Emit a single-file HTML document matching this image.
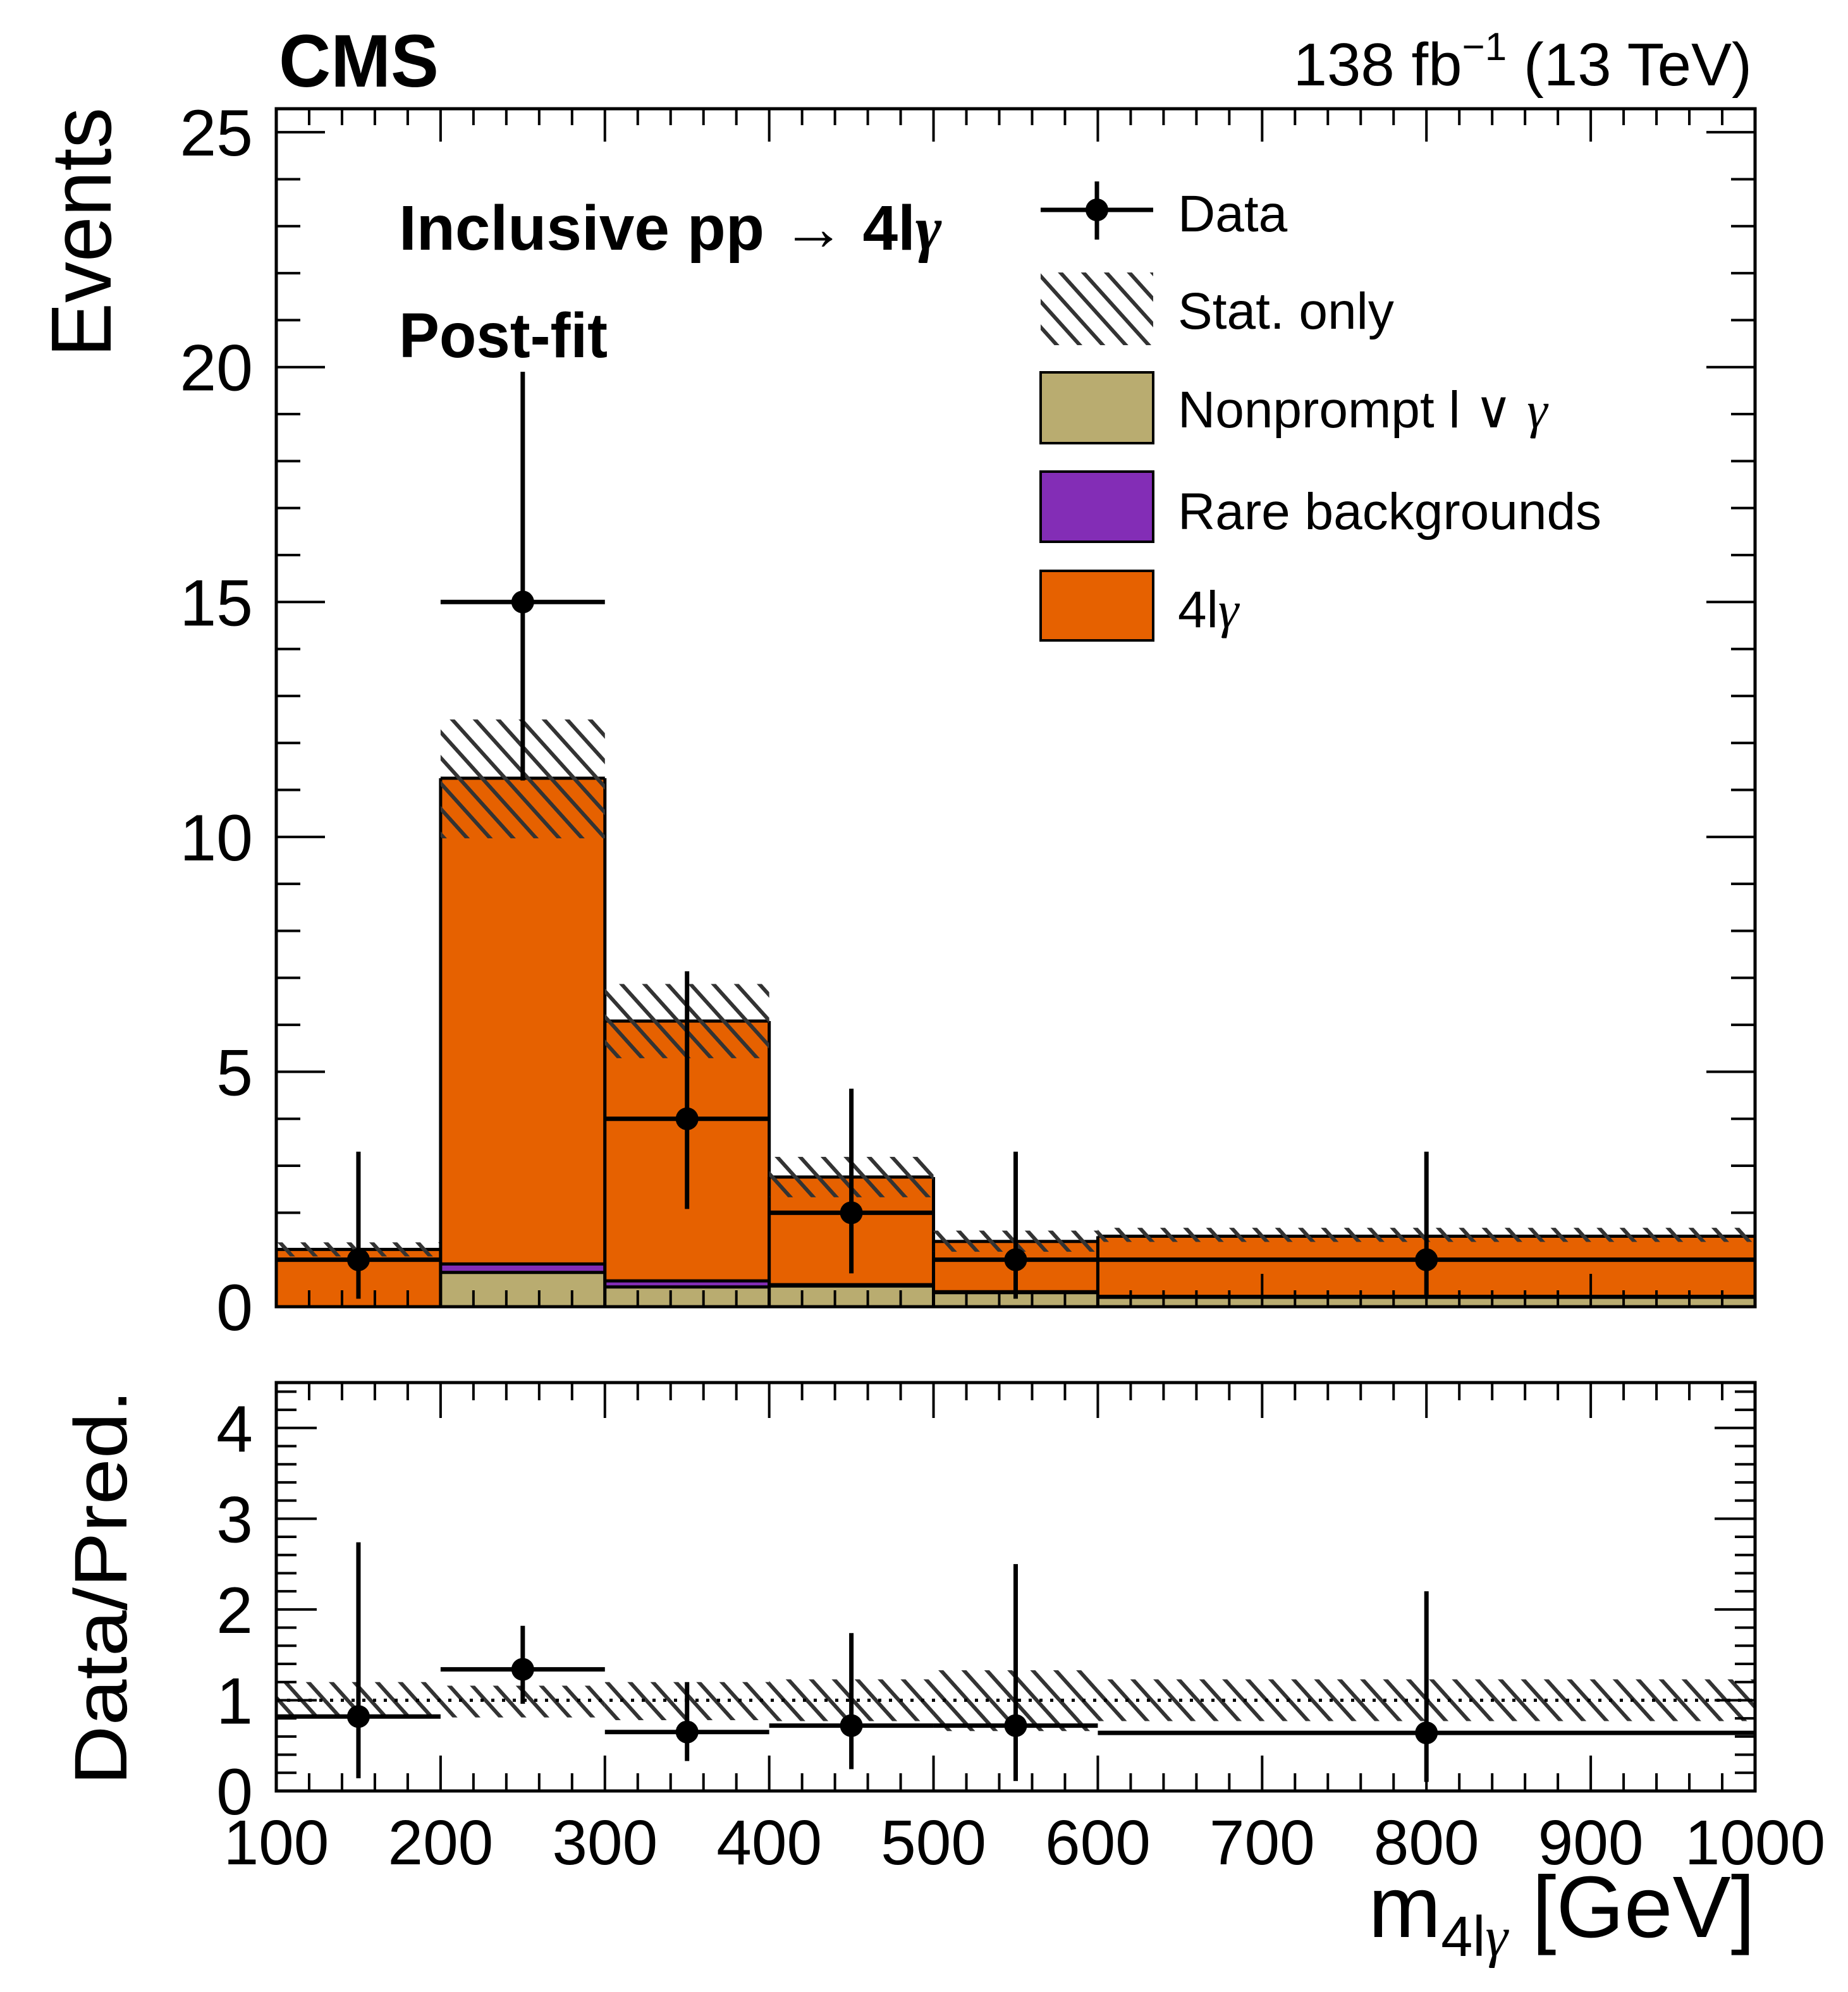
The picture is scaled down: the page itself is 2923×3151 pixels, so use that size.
<!DOCTYPE html>
<html><head><meta charset="utf-8"><style>
html,body{margin:0;padding:0;background:#fff}
svg{display:block}
text{font-family:"Liberation Sans",sans-serif;fill:#000}
.g{font-family:"Liberation Serif",serif;font-style:italic}
</style></head><body>
<svg id="chart" width="2923" height="3151" viewBox="0 0 2923 3151" xmlns="http://www.w3.org/2000/svg">
<defs>
<pattern id="hatch" patternUnits="userSpaceOnUse" width="27" height="27" patternTransform="rotate(-42)">
<line x1="13" y1="0" x2="13" y2="27" stroke="#333" stroke-width="6"/>
</pattern>
<clipPath id="clipTop"><rect x="437" y="172" width="2339" height="1895"/></clipPath>
<clipPath id="clipBot"><rect x="437" y="2187" width="2339" height="646"/></clipPath>
</defs>
<g id="layer-top"></g>
<g id="layer-bot"></g>
<g id="layer-axes"></g>

<text x="441" y="137" font-size="118" font-weight="bold" textLength="253" lengthAdjust="spacingAndGlyphs">CMS</text>
<text x="2771" y="135" font-size="96" text-anchor="end">138 fb<tspan font-size="62" dy="-40">−1</tspan><tspan dy="40"> (13 TeV)</tspan></text>
<text x="631" y="395" font-size="100" font-weight="bold">Inclusive pp → 4l<tspan class="g">γ</tspan></text>
<text x="631" y="565" font-size="100" font-weight="bold" textLength="330" lengthAdjust="spacingAndGlyphs">Post-fit</text>
<text transform="translate(175,565) rotate(-90)" font-size="135" textLength="395" lengthAdjust="spacingAndGlyphs">Events</text>
<text transform="translate(200,2824) rotate(-90)" font-size="118" textLength="626" lengthAdjust="spacingAndGlyphs">Data/Pred.</text>
<text x="2776" y="3064" font-size="138" text-anchor="end">m<tspan font-size="90" dy="30">4l<tspan class="g">γ</tspan></tspan><tspan dy="-30"> [GeV]</tspan></text>

<g>
<g>
<line x1="1646" y1="332" x2="1824" y2="332" stroke="#000" stroke-width="7"/>
<line x1="1735" y1="287" x2="1735" y2="379" stroke="#000" stroke-width="7"/>
<circle cx="1735" cy="332" r="18" fill="#000"/>
<text x="1863" y="366" font-size="82">Data</text></g>
<g>
<rect x="1646" y="431" width="178" height="115" fill="url(#hatch)"/>
<text x="1863" y="520" font-size="82">Stat. only</text></g>
<g>
<rect x="1646" y="589" width="178" height="112" fill="#b9ac70" stroke="#000" stroke-width="4"/>
<text x="1863" y="676" font-size="82">Nonprompt l ∨ <tspan class="g">γ</tspan></text></g>
<g>
<rect x="1646" y="746" width="178" height="111" fill="#832db6" stroke="#000" stroke-width="4"/>
<text x="1863" y="837" font-size="82">Rare backgrounds</text></g>
<g>
<rect x="1646" y="903" width="178" height="110" fill="#e66100" stroke="#000" stroke-width="4"/>
<text x="1863" y="992" font-size="82">4l<tspan class="g">γ</tspan></text></g>
</g>
</svg>
<script>
const binEdges = [100, 200, 300, 400, 500, 600, 1000];
const nonprompt = [0, 0.73, 0.42, 0.44, 0.30, 0.20];
const rare = [0, 0.18, 0.13, 0.03, 0.02, 0.02];
const signal = [1.22, 10.34, 5.53, 2.29, 1.07, 1.28];
const statLo = [1.07, 9.97, 5.29, 2.33, 1.17, 1.38];
const statHi = [1.37, 12.5, 6.87, 3.19, 1.62, 1.68];
const dataVal = [1, 15, 4, 2, 1, 1];
const dataLo = [0.17, 11.2, 2.08, 0.71, 0.17, 0.17];
const dataHi = [3.3, 19.9, 7.14, 4.64, 3.3, 3.3];
const ratioVal = [0.82, 1.34, 0.65, 0.72, 0.72, 0.64];
const ratioLo = [0.14, 0.96, 0.33, 0.24, 0.11, 0.10];
const ratioHi = [2.74, 1.82, 1.2, 1.74, 2.5, 2.2];
const ratioBandLo = [0.81, 0.81, 0.78, 0.77, 0.66, 0.77];
const ratioBandHi = [1.2, 1.16, 1.2, 1.23, 1.33, 1.23];
const yTicksTop = [0, 5, 10, 15, 20, 25];
const yTicksBot = [0, 1, 2, 3, 4];
const xTicks = [100, 200, 300, 400, 500, 600, 700, 800, 900, 1000];

(function () {
const NS = "http://www.w3.org/2000/svg";
const X0 = 437, X1 = 2776, TY0 = 2067, TY1 = 172, BY0 = 2833, BY1 = 2187;
const xs = v => X0 + (v - 100) * (X1 - X0) / 900;
const yt = v => TY0 - v * (TY0 - TY1) / 25.5;
const yb = v => BY0 - v * (BY0 - BY1) / 4.5;
function mk(tag, attrs, parent) { const e = document.createElementNS(NS, tag); for (const k in attrs) e.setAttribute(k, attrs[k]); parent.appendChild(e); return e; }
const topLayer = document.getElementById('layer-top');
const botLayer = document.getElementById('layer-bot');
const ax = document.getElementById('layer-axes');
const gT = mk('g', {'clip-path': 'url(#clipTop)'}, topLayer);
const gB = mk('g', {'clip-path': 'url(#clipBot)'}, botLayer);

for (let i = 0; i < dataVal.length; i++) {
  const xa = xs(binEdges[i]), xb = xs(binEdges[i + 1]);
  const l1 = nonprompt[i], l2 = l1 + rare[i], l3 = l2 + signal[i];
  const r1 = mk('rect', {x: xa, y: yt(l1), width: xb - xa, height: yt(0) - yt(l1), fill: '#b9ac70'}, gT);
  
  
  const r2 = mk('rect', {x: xa, y: yt(l2), width: xb - xa, height: yt(l1) - yt(l2), fill: '#832db6'}, gT);
  
  
  const r3 = mk('rect', {x: xa, y: yt(l3), width: xb - xa, height: yt(l2) - yt(l3), fill: '#e66100'}, gT);
  
  
  [l1, l2, l3].forEach(v => { if (v > 0) mk('line', {x1: xa, x2: xb, y1: yt(v), y2: yt(v), stroke: '#000', 'stroke-width': 5}, gT); });
  mk('line', {x1: xa, x2: xa, y1: yt(0), y2: yt(l3), stroke: '#000', 'stroke-width': 5}, gT);
  mk('line', {x1: xb, x2: xb, y1: yt(0), y2: yt(l3), stroke: '#000', 'stroke-width': 5}, gT);
  const h = mk('rect', {x: xa, y: yt(statHi[i]), width: xb - xa, height: yt(statLo[i]) - yt(statHi[i]), fill: 'url(#hatch)'}, gT);
  
  
  const hb = mk('rect', {x: xa, y: yb(ratioBandHi[i]), width: xb - xa, height: yb(ratioBandLo[i]) - yb(ratioBandHi[i]), fill: 'url(#hatch)'}, gB);
  
  
}
mk('line', {x1: X0, x2: X1, y1: yb(1), y2: yb(1), stroke: '#000', 'stroke-width': 5, 'stroke-dasharray': '5 12'}, gB);
for (let i = 0; i < dataVal.length; i++) {
  const xa = xs(binEdges[i]), xb = xs(binEdges[i + 1]), xc = (xa + xb) / 2;
  const g = mk('g', {}, gT);
  
  
  mk('line', {x1: xa, x2: xb, y1: yt(dataVal[i]), y2: yt(dataVal[i]), stroke: '#000', 'stroke-width': 7}, g);
  mk('line', {x1: xc, x2: xc, y1: yt(dataLo[i]), y2: yt(dataHi[i]), stroke: '#000', 'stroke-width': 7}, g);
  mk('circle', {cx: xc, cy: yt(dataVal[i]), r: 18, fill: '#000'}, g);
  const gr = mk('g', {}, gB);
  
  
  mk('line', {x1: xa, x2: xb, y1: yb(ratioVal[i]), y2: yb(ratioVal[i]), stroke: '#000', 'stroke-width': 7}, gr);
  mk('line', {x1: xc, x2: xc, y1: yb(ratioLo[i]), y2: yb(ratioHi[i]), stroke: '#000', 'stroke-width': 7}, gr);
  mk('circle', {cx: xc, cy: yb(ratioVal[i]), r: 18, fill: '#000'}, gr);
}
function frame(y0, y1, ys, ymax, yminorStep, ymajorStep, majL, minL, xMaj, xMin) {
  mk('rect', {x: X0, y: y1, width: X1 - X0, height: y0 - y1, fill: 'none', stroke: '#000', 'stroke-width': 5}, ax);
  for (let v = 0; v <= ymax + 1e-6; v += yminorStep) {
    const major = Math.abs(v / ymajorStep - Math.round(v / ymajorStep)) < 1e-6;
    const L = major ? majL : minL, y = ys(v);
    mk('line', {x1: X0, x2: X0 + L, y1: y, y2: y, stroke: '#000', 'stroke-width': 4}, ax);
    mk('line', {x1: X1, x2: X1 - L, y1: y, y2: y, stroke: '#000', 'stroke-width': 4}, ax);
  }
  for (let v = 100; v <= 1000; v += 20) {
    const L = (v % 100 === 0) ? xMaj : xMin, x = xs(v);
    mk('line', {x1: x, x2: x, y1: y0, y2: y0 - L, stroke: '#000', 'stroke-width': 4}, ax);
    mk('line', {x1: x, x2: x, y1: y1, y2: y1 + L, stroke: '#000', 'stroke-width': 4}, ax);
  }
}
frame(TY0, TY1, yt, 25.5, 1, 5, 77, 38, 52, 26);
frame(BY0, BY1, yb, 4.5, 0.2, 1, 64, 32, 56, 28);
yTicksTop.forEach(v => {
  const t = mk('text', {x: 400, y: yt(v) + 37, 'font-size': 104, 'text-anchor': 'end'}, ax);
  
  
  t.textContent = v;
});
yTicksBot.forEach(v => {
  const t = mk('text', {x: 400, y: yb(v) + 37, 'font-size': 104, 'text-anchor': 'end'}, ax);
  
  
  t.textContent = v;
});
xTicks.forEach(v => {
  const t = mk('text', {x: xs(v), y: 2949, 'font-size': 100, 'text-anchor': 'middle'}, ax);
  
  
  t.textContent = v;
});
})();
</script>
</body></html>
